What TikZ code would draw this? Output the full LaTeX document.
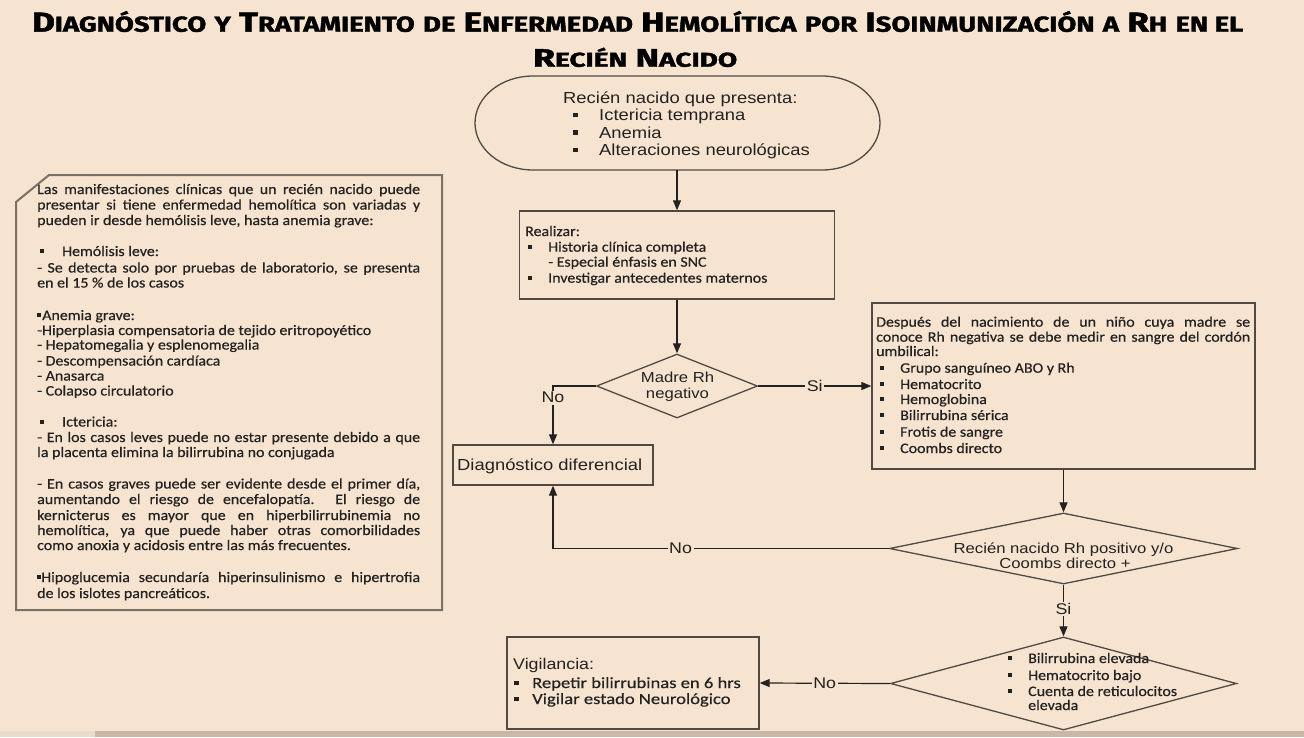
\documentclass[tikz,border=0pt]{standalone}
\usepackage{graphicx}
\usepackage{fontspec}
\usetikzlibrary{shapes.geometric,arrows.meta}
\newfontfamily\ar{Liberation Sans}[FakeStretch=1.15]
\newfontfamily\cb{Carlito}[FakeStretch=1.1,FakeBold=0.5]
\newfontfamily\cbw{Carlito}[FakeStretch=1.2,FakeBold=0.5]
\newfontfamily\tf{Fira Sans}[BoldFeatures={FakeBold=1.6}]
\definecolor{bg}{HTML}{F7E4D0}
\definecolor{ink}{HTML}{222222}
\definecolor{edge}{HTML}{4F4A45}
\definecolor{lbedge}{HTML}{7A7066}
\definecolor{strip}{HTML}{C9B8A6}
\definecolor{strip2}{HTML}{E9DCCD}
\newcommand\bul{\raisebox{0.2em}{\rule{0.28em}{0.28em}}}
\newcommand\J[1]{\makebox[383pt][s]{#1}}
\newcommand\JR[1]{\makebox[374pt][s]{#1}}
\newcommand\BS[2]{{\fontsize{27}{27}\selectfont #1}{\fontsize{21.3}{21.3}\selectfont #2}}
\tikzset{
  conn/.style={draw=ink, line width=1.2pt, -{Triangle[length=10pt,width=8pt]}},
  lbl/.style={fill=bg, inner sep=1.5pt, text=ink, font=\ar\fontsize{15.5}{17}\selectfont},
  txt/.style={anchor=base west, inner sep=0pt, text=ink},
  ctr/.style={anchor=base, inner sep=0pt, text=ink},
  fbox/.style={draw=edge, line width=1.3pt, inner sep=0pt},
  dia/.style={draw=edge, line width=1.3pt, shape=diamond, inner sep=0pt},
  lt/.style={txt, font=\cb\fontsize{14.5}{16}\selectfont},
  arialtxt/.style={txt, font=\ar\fontsize{16}{18}\selectfont},
}
\begin{document}
\begin{tikzpicture}[x=1pt,y=-1pt]
\useasboundingbox (0,0) rectangle (1304,737);
\fill[bg] (0,0) rectangle (1304,737);
\fill[strip2] (0,731) rectangle (95,737);
\fill[strip] (95,731) rectangle (1304,737);

% Title
\node[anchor=base west, inner sep=0pt, text=black, font=\tf\bfseries\fontsize{27}{27}\selectfont] (title1) at (32,31.7)
 {\resizebox{1211pt}{19pt}{\raisebox{0pt}[\fontcharht\font`D][0pt]{\BS{D}{IAGNÓSTICO} \BS{}{Y} \BS{T}{RATAMIENTO} \BS{}{DE} \BS{E}{NFERMEDAD} \BS{H}{EMOLÍTICA} \BS{}{POR} \BS{I}{SOINMUNIZACIÓN} \BS{}{A} \BS{R}{H} \BS{}{EN EL}}}};
\node[anchor=base west, inner sep=0pt, text=black, font=\tf\bfseries\fontsize{27}{27}\selectfont] (title2) at (533,66.7)
 {\resizebox{204pt}{17.5pt}{\raisebox{0pt}[\fontcharht\font`D][0pt]{\BS{R}{ECIÉN} \BS{N}{ACIDO}}}};

% Left box
\draw[lbedge, line width=2pt] (16,202) -- (49,175) -- (442,175) -- (442,610) -- (16,610) -- cycle;
\node[lt] (t1) at (37,194) {\J{Las manifestaciones clínicas que un recién nacido puede}};
\node[lt] (t2) at (37,209.5) {\J{presentar si tiene enfermedad hemolítica son variadas y}};
\node[lt] (t3) at (37,225) {pueden ir desde hemólisis leve, hasta anemia grave:};
\node[lt] (t4) at (40,256) {\makebox[22pt][l]{\bul}Hemólisis leve:};
\node[lt] (t5) at (37,272.5) {\J{- Se detecta solo por pruebas de laboratorio, se presenta}};
\node[lt] (t6) at (37,287.5) {en el 15 \% de los casos};
\node[lt] (t7) at (37,320) {\bul\hspace{1pt}Anemia grave:};
\node[lt] (t8) at (37,335) {-Hiperplasia compensatoria de tejido eritropoyético};
\node[lt] (t9) at (37,349.5) {- Hepatomegalia y esplenomegalia};
\node[lt] (t10) at (37,365.5) {- Descompensación cardíaca};
\node[lt] (t11) at (37,380.5) {- Anasarca};
\node[lt] (t12) at (37,395.5) {- Colapso circulatorio};
\node[lt] (t13) at (40,426.5) {\makebox[22pt][l]{\bul}Ictericia:};
\node[lt] (t14) at (37,442) {\J{- En los casos leves puede no estar presente debido a que}};
\node[lt] (t15) at (37,457) {la placenta elimina la bilirrubina no conjugada};
\node[lt] (t16) at (37,488.5) {\J{- En casos graves puede ser evidente desde el primer día,}};
\node[lt] (t17) at (37,504) {\J{aumentando el riesgo de encefalopatía. El riesgo de}};
\node[lt] (t18) at (37,520) {\J{kernicterus es mayor que en hiperbilirrubinemia no}};
\node[lt] (t19) at (37,535) {\J{hemolítica, ya que puede haber otras comorbilidades}};
\node[lt] (t20) at (37,550) {como anoxia y acidosis entre las más frecuentes.};
\node[lt] (t21) at (37,582) {\J{\bul Hipoglucemia secundaría hiperinsulinismo e hipertrofia}};
\node[lt] (t22) at (37,598) {de los islotes pancreáticos.};

% Terminal
\draw[edge, line width=1.3pt] (533,76) -- (822,76) arc[start angle=-90, end angle=90, x radius=58, y radius=47]
  -- (533,170) arc[start angle=90, end angle=270, x radius=58, y radius=47] -- cycle;
\coordinate (termS) at (677,170);
\node[arialtxt] (m0) at (563,103) {Recién nacido que presenta:};
\node[arialtxt] (m1) at (573,120.5) {\makebox[26pt][l]{\bul}Ictericia temprana};
\node[arialtxt] (m2) at (573,138) {\makebox[26pt][l]{\bul}Anemia};
\node[arialtxt] (m3) at (573,155.5) {\makebox[26pt][l]{\bul}Alteraciones neurológicas};

% Realizar
\node[fbox, minimum width=315pt, minimum height=88pt] (real) at (677,255) {};
\node[lt] (r0) at (525,236) {Realizar:};
\node[lt] (r1) at (528,251.7) {\makebox[20pt][l]{\bul}Historia clínica completa};
\node[lt] (r2) at (548,266.7) {- Especial énfasis en SNC};
\node[lt] (r3) at (528,282.7) {\makebox[20pt][l]{\bul}Investigar antecedentes maternos};

% Diamond 1
\node[dia, minimum width=161pt, minimum height=64pt] (d1) at (677,386) {};
\node[ctr, font=\ar\fontsize{14.5}{16}\selectfont] (d1a) at (677.5,382.7) {Madre Rh};
\node[ctr, font=\ar\fontsize{14.5}{16}\selectfont] (d1b) at (677.5,398) {negativo};

% Diagnostico diferencial
\node[fbox, minimum width=200pt, minimum height=40pt] (diag) at (553,465) {};
\node[arialtxt] (dd) at (457,470) {Diagnóstico diferencial};

% Right box
\node[fbox, minimum width=383pt, minimum height=166pt] (rbox) at (1063.5,386) {};
\node[lt] (b1) at (876,326.7) {\JR{Después del nacimiento de un niño cuya madre se}};
\node[lt] (b2) at (876,341.7) {\JR{conoce Rh negativa se debe medir en sangre del cordón}};
\node[lt] (b3) at (876,356) {umbilical:};
\node[lt] (b4) at (880,372.7) {\makebox[20pt][l]{\bul}Grupo sanguíneo ABO y Rh};
\node[lt] (b5) at (880,389) {\makebox[20pt][l]{\bul}Hematocrito};
\node[lt] (b6) at (880,404) {\makebox[20pt][l]{\bul}Hemoglobina};
\node[lt] (b7) at (880,420) {\makebox[20pt][l]{\bul}Bilirrubina sérica};
\node[lt] (b8) at (880,436.7) {\makebox[20pt][l]{\bul}Frotis de sangre};
\node[lt] (b9) at (880,453) {\makebox[20pt][l]{\bul}Coombs directo};

% Diamond 2
\node[dia, minimum width=348pt, minimum height=71pt] (d2) at (1063.5,548.5) {};
\node[ctr, font=\ar\fontsize{14.5}{16}\selectfont] (d2a) at (1063.5,553) {Recién nacido Rh positivo y/o};
\node[ctr, font=\ar\fontsize{14.5}{16}\selectfont] (d2b) at (1065,568) {Coombs directo +};

% Diamond 3
\node[dia, minimum width=346pt, minimum height=93pt] (d3) at (1063.5,683.5) {};
\node[lt] (e1) at (1008,663) {\makebox[20pt][l]{\bul}Bilirrubina elevada};
\node[lt] (e2) at (1008,680) {\makebox[20pt][l]{\bul}Hematocrito bajo};
\node[lt] (e3) at (1008,696) {\makebox[20pt][l]{\bul}Cuenta de reticulocitos};
\node[lt] (e4) at (1028,710) {elevada};

% Vigilancia
\node[fbox, minimum width=252pt, minimum height=92pt] (vig) at (633,683) {};
\node[txt, font=\ar\fontsize{15.5}{17}\selectfont] (v0) at (513,669) {Vigilancia:};
\node[txt, font=\cbw\fontsize{15.5}{17}\selectfont] (v1) at (514,688) {\makebox[18pt][l]{\bul}Repetir bilirrubinas en 6 hrs};
\node[txt, font=\cbw\fontsize{15.5}{17}\selectfont] (v2) at (514,704) {\makebox[18pt][l]{\bul}Vigilar estado Neurológico};

% Connectors
\draw[conn] (termS) -- (real.north);
\draw[conn] (real.south) -- (d1.north);
\draw[conn] (d1.west) -| node[lbl, pos=0.6] {No} (diag.north);
\draw[conn] (d1.east) -- node[lbl, pos=0.5] {Si} (rbox.west);
\draw[conn] (rbox.south) -- (d2.north);
\draw[conn] (d2.west) -| node[lbl, pos=0.31] {No} (diag.south);
\draw[conn] (d2.south) -- node[lbl, pos=0.47] {Si} (d3.north);
\draw[conn] (d3.west) -- node[lbl, pos=0.5] {No} (vig.east);
\end{tikzpicture}
\end{document}
